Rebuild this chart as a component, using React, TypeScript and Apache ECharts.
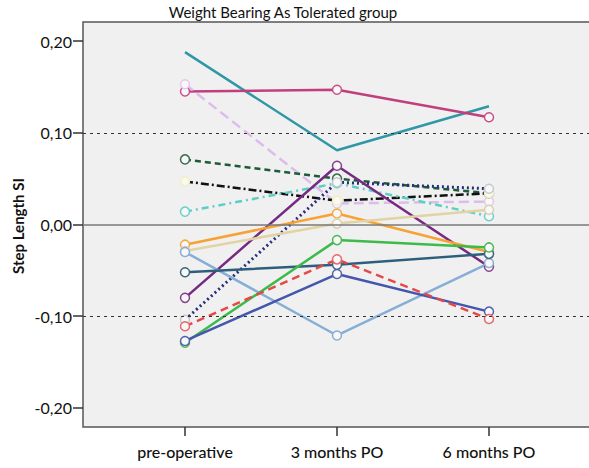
import React, { useEffect, useRef } from "react";
import * as echarts from "echarts";

const categories = ["pre-operative", "3 months PO", "6 months PO"];
const yTicks = [-0.2, -0.1, 0, 0.1, 0.2];
const refLines = [0.1, -0.1];

const tealVals = [0.188, 0.081, 0.129];
const magentaVals = [0.145, 0.147, 0.117];
const lavenderVals = [0.153, 0.023, 0.025];
const darkGreenVals = [0.071, 0.050, 0.034];
const blackVals = [0.047, 0.026, 0.034];
const cyanVals = [0.014, 0.045, 0.009];
const navyVals = [-0.104, 0.046, 0.039];
const purpleVals = [-0.080, 0.064, -0.046];
const orangeVals = [-0.022, 0.012, -0.030];
const tanVals = [-0.029, 0.001, 0.016];
const steelVals = [-0.030, -0.121, -0.042];
const slateVals = [-0.052, -0.044, -0.032];
const greenVals = [-0.129, -0.017, -0.025];
const royalVals = [-0.127, -0.054, -0.095];
const redVals = [-0.111, -0.038, -0.103];

type S = { name: string; vals: number[]; color: string; mark: string | null; type: any; width?: number };

const seriesDefs: S[] = [
  { name: "teal", vals: tealVals, color: "#2f97a6", mark: null, type: "solid" },
  { name: "magenta", vals: magentaVals, color: "#c13f7d", mark: "#c8508a", type: "solid" },
  { name: "lavender", vals: lavenderVals, color: "#dcbcec", mark: "#e4c8f0", type: [10, 5] },
  { name: "darkgreen", vals: darkGreenVals, color: "#1d5b3a", mark: "#3a6a50", type: [6, 4] },
  { name: "black", vals: blackVals, color: "#111111", mark: "#f2f0b8", type: [8, 3, 2, 3] },
  { name: "cyan", vals: cyanVals, color: "#5ccfc5", mark: "#6cd0c8", type: [7, 4, 2, 4] },
  { name: "navy", vals: navyVals, color: "#262e7a", mark: "#c8c8d4", type: [2, 3], width: 3 },
  { name: "purple", vals: purpleVals, color: "#772a82", mark: "#86408e", type: "solid" },
  { name: "orange", vals: orangeVals, color: "#f7a233", mark: "#f4a848", type: "solid" },
  { name: "tan", vals: tanVals, color: "#e2d3a5", mark: "#d8d0b0", type: "solid" },
  { name: "steel", vals: steelVals, color: "#86aed6", mark: "#8aaed0", type: "solid" },
  { name: "slate", vals: slateVals, color: "#2d5f7d", mark: "#3a6680", type: "solid" },
  { name: "green", vals: greenVals, color: "#3cba4a", mark: "#4ab858", type: "solid" },
  { name: "royal", vals: royalVals, color: "#4557ad", mark: "#5462ae", type: "solid" },
  { name: "red", vals: redVals, color: "#e6484a", mark: "#e86868", type: [8, 5] },
];

const fmt = (v: number) => {
  const r = Math.round(v * 100) / 100;
  const s = Math.abs(r).toFixed(2).replace(".", ",");
  return r < 0 ? "-" + s : s;
};

export default function App() {
  const ref = useRef<HTMLDivElement>(null);
  useEffect(() => {
    if (!ref.current) return;
    const chart = echarts.init(ref.current, null, { renderer: "svg" });
    const font = "Lato, 'Open Sans', sans-serif";
    const series: any[] = seriesDefs.map((d) => ({
      type: "line",
      name: d.name,
      data: d.vals.map((v, i) => [i, v]),
      symbol: d.mark ? "circle" : "none",
      symbolSize: 9,
      showSymbol: !!d.mark,
      lineStyle: { color: d.color, width: d.width ?? 2.5, type: d.type },
      itemStyle: { color: "#f8f8f8", borderColor: d.mark ?? d.color, borderWidth: 1.5 },
      z: 3,
    }));
    series.unshift({
      type: "line",
      data: [],
      silent: true,
      z: 1,
      markLine: {
        silent: true,
        symbol: "none",
        label: { show: false },
        data: [
          ...refLines.map((v) => ({ yAxis: v, lineStyle: { color: "#333", width: 1.2, type: [3, 4] } })),
          { yAxis: 0, lineStyle: { color: "#7a7a7a", width: 1.5, type: "solid" } },
        ],
      },
    });
    chart.setOption({
      animation: false,
      backgroundColor: "#ffffff",
      grid: {
        left: 83,
        top: 22,
        right: 0,
        bottom: 41,
        show: true,
        backgroundColor: "#f0f0f0",
        borderColor: "#555555",
        borderWidth: 1.5,
      },
      xAxis: {
        type: "value",
        min: -0.6711,
        max: 2.7303,
        splitLine: { show: false },
        axisLine: { show: false, onZero: false },
        axisTick: { show: true, customValues: [0, 1, 2], length: 9, lineStyle: { color: "#333", width: 1.5 } },
        axisLabel: {
          customValues: [0, 1, 2],
          formatter: (v: number) => categories[Math.round(v)] ?? "",
          fontSize: 16,
          fontWeight: 500,
          fontFamily: font,
          color: "#111",
          margin: 16,
        },
      },
      yAxis: {
        type: "value",
        min: -0.2208,
        max: 0.2208,
        splitLine: { show: false },
        axisLine: { show: false, onZero: false },
        axisTick: { show: true, customValues: yTicks, length: 10, lineStyle: { color: "#333", width: 1.5 } },
        axisLabel: {
          customValues: yTicks,
          formatter: (v: number) => fmt(v),
          fontSize: 16,
          fontFamily: font,
          color: "#111",
          margin: 11,
        },
      },
      graphic: [
        {
          type: "text",
          x: 283,
          y: 12,
          style: {
            text: "Weight Bearing As Tolerated group",
            fontSize: 15,
            fontFamily: font,
            fill: "#111",
            textAlign: "center",
            textVerticalAlign: "middle",
          },
        },
        {
          type: "text",
          x: 18,
          y: 226,
          rotation: Math.PI / 2,
          style: {
            text: "Step Length SI",
            fontSize: 15,
            fontWeight: "bold",
            fontFamily: font,
            fill: "#111",
            textAlign: "center",
            textVerticalAlign: "middle",
          },
        },
      ],
      series,
    });
    return () => chart.dispose();
  }, []);
  return (
    <div style={{ position: "fixed", left: 0, top: 0, width: 589, height: 468, overflow: "hidden", background: "#fff" }}>
      <div ref={ref} style={{ width: 600, height: 468 }} />
    </div>
  );
}
